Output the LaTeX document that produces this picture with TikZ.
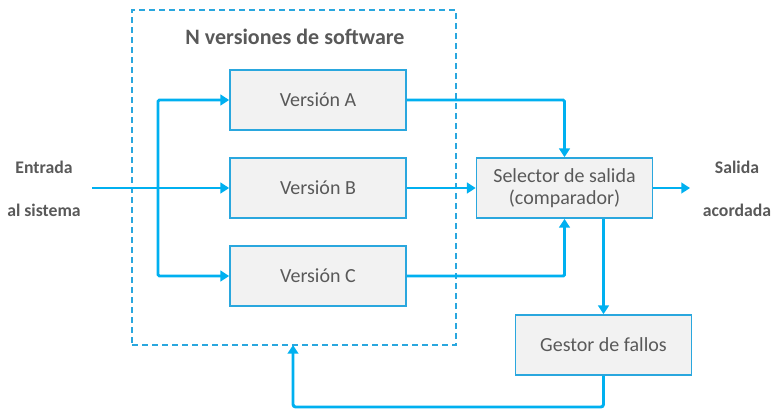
\documentclass[tikz,border=0pt]{standalone}
\usepackage{fontspec}
\setmainfont{Carlito}
\usepackage{tikz}
\usetikzlibrary{calc}
\usetikzlibrary{arrows.meta}
\usetikzlibrary{shapes,positioning}
\definecolor{azul}{HTML}{00B0F0}
\definecolor{borde}{HTML}{2AA7DE}
\definecolor{gristexto}{HTML}{595959}
\definecolor{grisfondo}{HTML}{F2F2F2}
\begin{document}
\begin{tikzpicture}[x=0.75pt, y=-0.75pt,
	box/.style={rectangle, draw=borde, line width=1.3pt, fill=grisfondo, inner sep=0pt, minimum width=132pt, minimum height=45pt, text=gristexto, font=\fontsize{15}{17}\selectfont, align=center},
	etiqueta/.style={text=gristexto, font=\fontsize{13.3}{15}\selectfont\bfseries, inner sep=0pt},
	flujo/.style={draw=azul, line width=2.2pt, -{Triangle[length=6.5pt,width=8pt]}},
	linea/.style={draw=azul, line width=2.2pt}]
	\useasboundingbox (0,0) rectangle (784,419);
	\node (grupo) at (294,177.5) [draw=borde, dash pattern=on 4.5pt off 3pt, line width=1.1pt, minimum width=243pt, minimum height=251.25pt, inner sep=0pt] {};
	\node (titulo) at (295,37) [etiqueta, font=\fontsize{16.5}{18}\selectfont\bfseries] {N versiones de software};
	\node (verA) at (318,100) [box] {Versión A};
	\node (verB) at (318,188) [box] {Versión B};
	\node (verC) at (318,276) [box] {Versión C};
	\node (sel) at (564.5,188) [box] {Selector de salida\\(comparador)};
	\node (gestor) at (603.5,345) [box] {Gestor de fallos};
	\node (ent1) at (44,167) [etiqueta] {Entrada};
	\node (ent2) at (44,210) [etiqueta] {al sistema};
	\node (sal1) at (737,167) [etiqueta] {Salida};
	\node (sal2) at (737,210) [etiqueta] {acordada};
	\coordinate (entrada) at (92,188);
	\coordinate (rama) at (158,188);
	\coordinate (salida) at (690,188);
	\coordinate (abajo) at (603.5,407);
	\coordinate (retorno) at (293,345);
	\draw[flujo] (entrada) -- (verB.west);
	\draw[flujo, rounded corners=1pt] (rama) |- (verA.west);
	\draw[flujo, rounded corners=1pt] (rama) |- (verC.west);
	\draw[flujo, rounded corners=1pt] (verA.east) -| (sel.north);
	\draw[flujo] (verB.east) -- (sel.west);
	\draw[flujo, rounded corners=1pt] (verC.east) -| (sel.south);
	\draw[flujo] (sel.east) -- (salida);
	\draw[flujo] (sel.south -| gestor.north) -- (gestor.north);
	\draw[flujo, rounded corners=2pt] (gestor.south) -- (abajo) -| (retorno);
\end{tikzpicture}
\end{document}
